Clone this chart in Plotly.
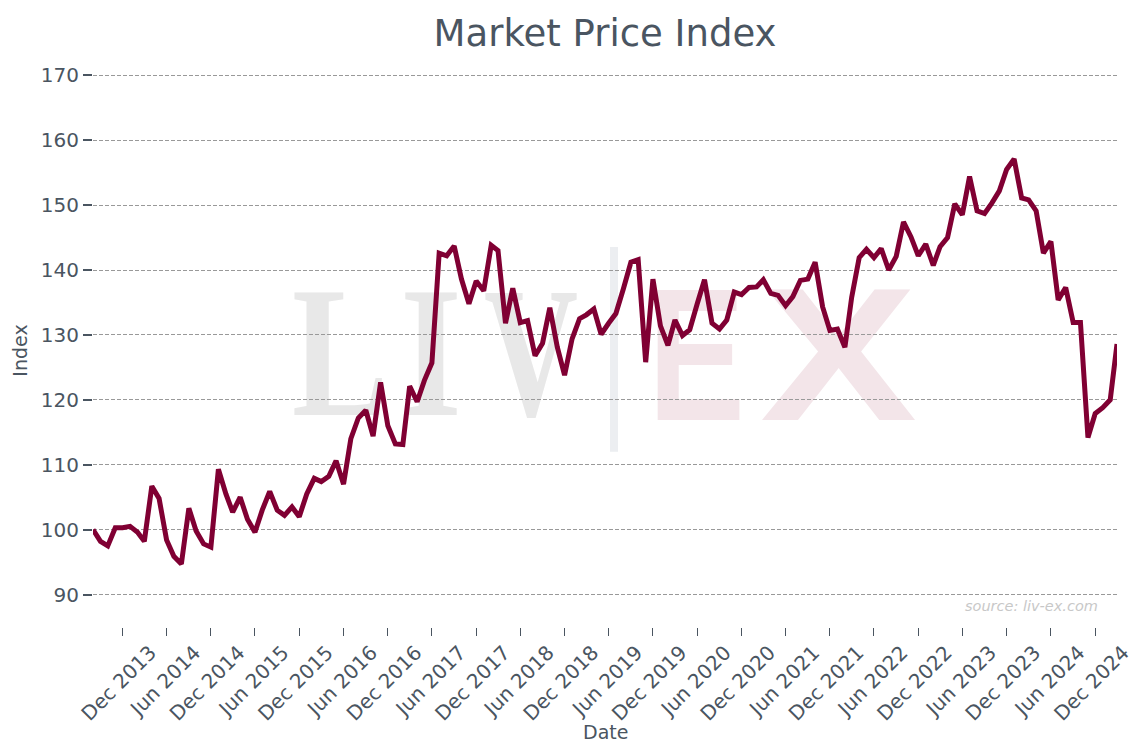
import base64
import pandas as pd
import plotly.graph_objects as go

# ---- data -------------------------------------------------------------
start_month = "2013-08-01"
index_values = [
    100.0, 98.2, 97.5, 100.3, 100.3, 100.5, 99.6, 98.2, 106.7, 104.8,
    98.4, 95.9, 94.7, 103.3, 99.8, 97.8, 97.3, 109.3, 105.5, 102.7,
    105.0, 101.6, 99.6, 103.0, 105.9, 103.0, 102.2, 103.5, 102.0, 105.5,
    107.9, 107.4, 108.2, 110.6, 107.0, 114.0, 117.2, 118.4, 114.4, 122.7,
    116.0, 113.2, 113.1, 122.1, 119.7, 123.0, 125.7, 142.6, 142.2, 143.7,
    138.6, 134.8, 138.3, 136.8, 143.8, 143.0, 131.8, 137.2, 131.9, 132.2,
    126.8, 128.7, 134.2, 128.1, 123.8, 129.4, 132.5, 133.1, 134.0, 130.1,
    131.8, 133.3, 137.1, 141.2, 141.6, 125.8, 138.6, 131.4, 128.4, 132.3,
    129.9, 130.8, 134.8, 138.5, 131.8, 130.9, 132.3, 136.6, 136.2, 137.3,
    137.4, 138.5, 136.4, 136.1, 134.5, 135.9, 138.4, 138.6, 141.2, 134.3,
    130.7, 130.9, 128.1, 135.8, 141.9, 143.2, 141.9, 143.3, 140.0, 142.1,
    147.4, 145.1, 142.2, 144.0, 140.7, 143.6, 145.0, 150.2, 148.5, 154.4,
    149.1, 148.7, 150.3, 152.2, 155.5, 157.1, 151.1, 150.8, 149.1, 142.6,
    144.4, 135.4, 137.3, 131.9, 131.9, 114.2, 117.9, 118.8, 120.0, 128.6,
]
tick_labels = [
    "Dec 2013", "Jun 2014", "Dec 2014", "Jun 2015", "Dec 2015", "Jun 2016",
    "Dec 2016", "Jun 2017", "Dec 2017", "Jun 2018", "Dec 2018", "Jun 2019",
    "Dec 2019", "Jun 2020", "Dec 2020", "Jun 2021", "Dec 2021", "Jun 2022",
    "Dec 2022", "Jun 2023", "Dec 2023", "Jun 2024", "Dec 2024",
]
y_ticks = [90, 100, 110, 120, 130, 140, 150, 160, 170]

dates = pd.date_range(start_month, periods=len(index_values), freq="MS")
tick_vals = [pd.to_datetime(t, format="%b %Y") for t in tick_labels]

# ---- style ------------------------------------------------------------
TEXT = "#4a5561"
LINE = "#800033"
FONT = "DejaVu Sans"

OFF = 8  # page body margin in the browser
W, H = 1125, 738
PL, PR = 93, 1117            # plot edges on the page (px)
Y_LO, Y_HI = 85, 170.2
PB = 627.5                   # page y of the plot bottom
PT = PB - (Y_HI - Y_LO) * 6.5
ML, MR = PL - OFF, W - (PR - OFF)
MT, MB = PT - OFF, H - (PB - OFF)
PW, PH = PR - PL, PB - PT

# watermark (LIV | EX) as an svg image placed below the traces
wm_x0, wm_y0, wm_w, wm_h = 280, 240, 650, 220
svg = f'''<svg xmlns="http://www.w3.org/2000/svg" width="{wm_w}" height="{wm_h}" viewBox="0 0 {wm_w} {wm_h}">
<g font-family="Liberation Serif, DejaVu Serif, serif" font-weight="bold" font-size="186" fill="#e8e8e8">
<text x="12" y="175" textLength="96" lengthAdjust="spacingAndGlyphs">L</text>
<text x="120" y="175" textLength="62" lengthAdjust="spacingAndGlyphs">I</text>
<text x="204" y="175" textLength="94" lengthAdjust="spacingAndGlyphs">V</text>
</g>
<rect x="330" y="7" width="8" height="205" fill="#eceef1"/>
<g font-family="Liberation Sans, Arial, sans-serif" font-weight="bold" font-size="190" fill="#f3e5e9">
<text x="368" y="180" textLength="97" lengthAdjust="spacingAndGlyphs">E</text>
<text x="480" y="180" textLength="157" lengthAdjust="spacingAndGlyphs">X</text>
</g>
</svg>'''
svg_uri = "data:image/svg+xml;base64," + base64.b64encode(svg.encode()).decode()

fig = go.Figure()
fig.add_trace(go.Scatter(
    x=dates, y=index_values, mode="lines",
    line=dict(color=LINE, width=5),
    name="Index", showlegend=False,
))

fig.update_layout(
    width=W, height=H,
    margin=dict(l=ML, r=MR, t=MT, b=MB, autoexpand=False),
    paper_bgcolor="white", plot_bgcolor="white",
    font=dict(family=FONT, color=TEXT, size=19),
    title=dict(text="Market Price Index", x=(605 - OFF) / W, xanchor="center",
               y=1 - (33 - OFF) / H, yanchor="middle",
               font=dict(size=37, color=TEXT, family=FONT)),
    xaxis=dict(
        type="date",
        range=[dates[0], dates[-1]],
        tickvals=tick_vals, ticktext=tick_labels,
        tickangle=-45, ticks="outside", ticklen=8, tickcolor=TEXT, tickwidth=1,
        ticklabelshift=28, ticklabelstandoff=-3, ticklabeloverflow="allow",
        showgrid=False, zeroline=False, showline=False, automargin=False,
        tickfont=dict(size=20, color=TEXT),
    ),
    yaxis=dict(
        range=[Y_LO, Y_HI],
        tickvals=y_ticks,
        ticks="outside", ticklen=9, tickcolor=TEXT, tickwidth=2,
        showgrid=True, gridcolor="#999999", griddash="4px,2px", gridwidth=1,
        zeroline=False, showline=False, automargin=False,
        tickfont=dict(size=20, color=TEXT),
        title=dict(text="Index", font=dict(size=19, color=TEXT), standoff=8),
    ),
    images=[dict(
        source=svg_uri, xref="paper", yref="paper",
        x=(wm_x0 - PL) / PW, y=(PB - wm_y0) / PH,
        sizex=wm_w / PW, sizey=wm_h / PH,
        sizing="stretch", xanchor="left", yanchor="top", layer="below",
    )],
    annotations=[
        dict(
            text="<i>source: liv-ex.com</i>", xref="paper", yref="paper",
            x=(1100 - PL) / PW, y=(PB - 606) / PH, xanchor="right", yanchor="middle",
            showarrow=False, font=dict(size=14.5, color="#c8c8c8", family=FONT),
        ),
        dict(
            text="Date", xref="paper", yref="paper",
            x=(605 - PL) / PW, y=(PB - 733) / PH, xanchor="center", yanchor="middle",
            showarrow=False, font=dict(size=19, color=TEXT, family=FONT),
        ),
    ],
)

fig.write_html("out.html")
